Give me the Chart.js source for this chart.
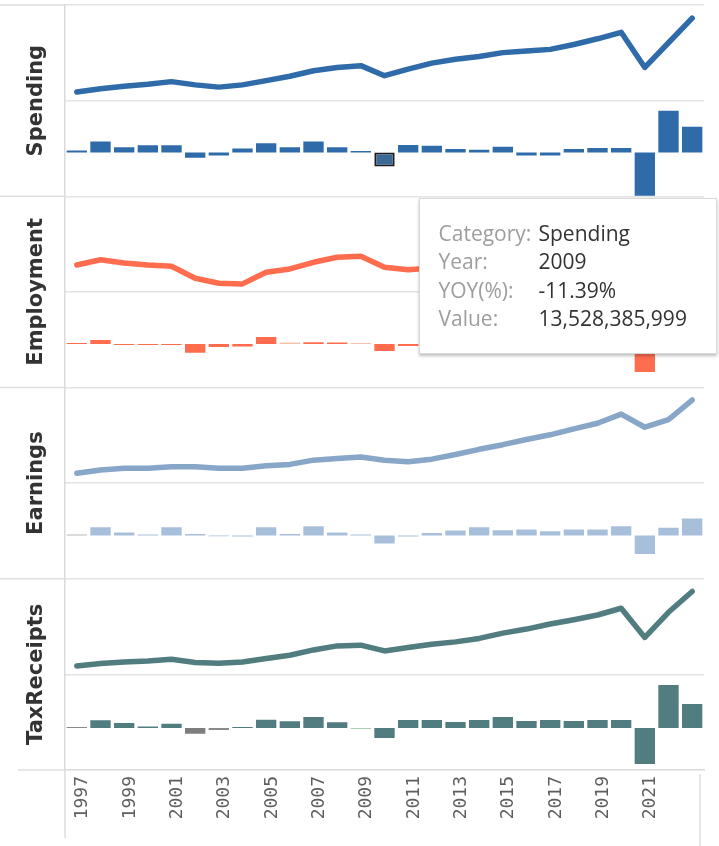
<!DOCTYPE html>
<html>
<head>
<meta charset="utf-8">
<script src="https://cdn.jsdelivr.net/npm/chart.js@4.4.1/dist/chart.umd.min.js"></script>
<style>
    html, body { margin: 0; padding: 0; background: #fff; }
    #wrap { position: relative; width: 719px; height: 846px; }
    #tip {
        position: absolute; display: none; box-sizing: border-box; width: 298px;
        padding: 20px 19px; background: #fff; border: 1px solid #d9d9d9;
        box-shadow: 0 2px 3px rgba(0, 0, 0, 0.25);
        font-family: "Open Sans", sans-serif; font-size: 21px;
    }
    #tip table { border-collapse: collapse; }
    #tip td { padding: 0; height: 28.5px; white-space: nowrap; }
    #tip td.k { color: #9d9d9d; width: 100px; }
    #tip td.v { color: #333; }
</style>
</head>
<body>
<div id="wrap">
    <canvas id="rowsChart"></canvas>
    <div id="tip"></div>
</div>
<script>
var years = [1996, 1997, 1998, 1999, 2000, 2001, 2002, 2003, 2004, 2005, 2006, 2007, 2008, 2009,
    2010, 2011, 2012, 2013, 2014, 2015, 2016, 2017, 2018, 2019, 2020, 2021, 2022];
var categories = ['Spending', 'Employment', 'Earnings', 'TaxReceipts'];

// values: billions (spending, earnings, tax), thousands (employment); yoy in %
var spendingValue = [10.47, 11.08, 11.57, 11.94, 12.42, 11.81, 11.39, 11.81, 12.61, 13.42, 14.45, 15.08, 15.41, 13.528385999,
    14.77, 15.88, 16.61, 17.11, 17.85, 18.15, 18.46, 19.38, 20.44, 21.65, 15.08, 19.70, 24.31];
var spendingYoy = [1.5, 8.8, 4.2, 5.8, 5.8, -4.2, -2.5, 3.3, 7.5, 4.2, 8.8, 4.2, 1.2, -11.39,
    6.1, 5.5, 2.8, 2.2, 4.7, -2.5, -2.5, 2.8, 3.6, 3.6, -35, 33.8, 20.8];

var employmentValue = [640, 693, 660, 640, 627, 507, 457, 450, 567, 600, 667, 717, 727, 617,
    593, 610, 628, 655, 680, 702, 718, 735, 752, 768, 560, 640, 705];
var employmentYoy = [0.8, 3.2, -0.8, -0.8, -0.8, -7.0, -2.4, -2.0, 5.6, 1.2, 1.4, 1.2, 0.8, -5.6,
    -1.6, 1.4, 1.9, 1.2, 2.2, 2.5, 1.6, 1.8, 2.1, 1.3, -22.4, 5.8, 7.6];

var earningsValue = [9.0, 9.66, 10.0, 10.0, 10.34, 10.34, 10.0, 10.0, 10.54, 10.8, 11.66, 12.0, 12.3, 11.66,
    11.34, 11.86, 12.8, 13.86, 14.8, 15.86, 16.8, 18.0, 19.14, 21.0, 18.34, 19.86, 23.86];
var earningsYoy = [0.8, 6.6, 2.4, 0.8, 6.6, 1.2, -0.6, -0.8, 6.6, 1.2, 7.4, 2.4, 0.8, -6.4,
    -0.8, 2.0, 4.0, 6.6, 4.2, 4.8, 3.4, 4.8, 4.8, 7.4, -14.8, 6.2, 13.6];

var taxValue = [4.33, 4.57, 4.73, 4.83, 5.0, 4.67, 4.6, 4.73, 5.07, 5.4, 5.93, 6.33, 6.4, 5.83,
    6.17, 6.5, 6.73, 7.07, 7.6, 8.0, 8.5, 8.93, 9.4, 10.07, 7.17, 9.67, 11.73];
var taxYoy = [0.8, 6.2, 4.0, 1.2, 3.4, -4.6, -1.6, 0.8, 6.6, 5.4, 8.8, 4.6, -0.8, -8.0,
    6.4, 6.4, 4.8, 6.4, 8.8, 5.6, 6.4, 5.6, 6.4, 6.4, -28.8, 34.4, 19.2];

var selectedYear = 2009;

var rows = [
    { value: spendingValue, yoy: spendingYoy, unit: 1e9, line: '#2e6ba8', bar: '#2e6ba8',
      lineRange: [8.86, 26.77], barRange: [-35.5, 42], muted: {} },
    { value: employmentValue, yoy: employmentYoy, unit: 1e3, line: '#ff6d4e', bar: '#ff6d4e',
      lineRange: [370, 1330], barRange: [-34.8, 41.7], muted: { 2005: '#f8c4a9', 2008: '#f8c4a9' } },
    { value: earningsValue, yoy: earningsYoy, unit: 1e9, line: '#88a6c8', bar: '#a8bfdb',
      lineRange: [7.0, 26.4], barRange: [-34.6, 41.9], muted: { 1996: '#b9b9b9' } },
    { value: taxValue, yoy: taxYoy, unit: 1e9, line: '#517d81', bar: '#517d81',
      lineRange: [3.5, 13.0], barRange: [-33.6, 42.9], muted: { 1996: '#8a8a8a', 2001: '#7d7d7d', 2002: '#8a8a8a', 2008: '#a9cbb2' } }
];

function panelAxis(range) {
    return {
        type: 'linear',
        position: 'left',
        stack: 'rows',
        stackWeight: 1,
        min: range[0],
        max: range[1],
        grid: { color: '#e3e3e3', lineWidth: 1.5, drawTicks: false },
        border: { color: '#dadada', width: 1.5 },
        ticks: { display: false },
        afterBuildTicks: function (axis) { axis.ticks = [{ value: axis.max }]; }
    };
}

var datasets = [];
var scales = {
    x: {
        type: 'category',
        offset: true,
        grid: { display: false },
        border: { display: true, color: '#dadada', width: 1.5 },
        ticks: {
            autoSkip: false,
            minRotation: 90,
            maxRotation: 90,
            padding: -2,
            labelOffset: -18,
            color: '#5e5e5e',
            font: { family: '"DejaVu Sans Mono", monospace', size: 18 },
            callback: function (value, index) {
                return years[index] % 2 === 1 ? String(years[index]) : '';
            }
        },
        afterFit: function (scale) { scale.height = 76; }
    }
};

// axes listed bottom row first: left-side stacked boxes are placed in reverse order
for (var k = rows.length - 1; k >= 0; k--) {
    scales['bar' + k] = panelAxis(rows[k].barRange);
    scales['line' + k] = panelAxis(rows[k].lineRange);
}

rows.forEach(function (r, k) {
    datasets.push({
        type: 'line',
        label: categories[k],
        row: k,
        data: r.value,
        yAxisID: 'line' + k,
        borderColor: r.line,
        borderWidth: 5.5,
        borderCapStyle: 'round',
        borderJoinStyle: 'round',
        pointRadius: 0,
        tension: 0
    });
    datasets.push({
        type: 'bar',
        label: categories[k] + ' YOY',
        row: k,
        data: r.yoy,
        yAxisID: 'bar' + k,
        grouped: false,
        categoryPercentage: 1,
        barPercentage: 0.86,
        backgroundColor: years.map(function (y) {
            if (k === 0 && y === selectedYear) return '#3a6996';
            return r.muted[y] || r.bar;
        }),
        borderColor: years.map(function (y) { return k === 0 && y === selectedYear ? '#1c1c1c' : r.bar; }),
        borderWidth: years.map(function (y) { return k === 0 && y === selectedYear ? 2 : 0; }),
        borderSkipped: false
    });
});

// row captions plus the table rules that run into the caption column and under the axis
var categoryLabels = {
    id: 'categoryLabels',
    afterDraw: function (chart) {
        var ctx = chart.ctx;
        var area = chart.chartArea;
        ctx.save();
        ctx.strokeStyle = '#dedede';
        ctx.lineWidth = 1.5;
        ctx.beginPath();
        categories.forEach(function (name, k) {
            var top = chart.scales['line' + k].top;
            ctx.moveTo(0, top);
            ctx.lineTo(area.left, top);
        });
        ctx.moveTo(18, area.bottom);
        ctx.lineTo(area.left, area.bottom);
        ctx.moveTo(area.left, area.bottom);
        ctx.lineTo(area.left, chart.height - 8);
        ctx.moveTo(area.right - 4, area.bottom + 4);
        ctx.lineTo(area.right - 4, chart.height);
        ctx.stroke();
        ctx.restore();

        categories.forEach(function (name, k) {
            var top = chart.scales['line' + k].top;
            var bottom = chart.scales['bar' + k].bottom;
            ctx.save();
            ctx.translate(area.left - 28, (top + bottom) / 2);
            ctx.rotate(-Math.PI / 2);
            ctx.font = 'bold 21px "DejaVu Sans", sans-serif';
            ctx.fillStyle = '#333';
            ctx.textAlign = 'center';
            ctx.textBaseline = 'middle';
            ctx.fillText(name, 0, 0);
            ctx.restore();
        });
    }
};

function showTip(context) {
    var tip = document.getElementById('tip');
    var t = context.tooltip;
    if (t.opacity === 0 || !t.dataPoints || !t.dataPoints.length) {
        tip.style.display = 'none';
        return;
    }
    var p = t.dataPoints[0];
    var r = rows[p.dataset.row];
    var i = p.dataIndex;
    var cells = [
        ['Category:', categories[p.dataset.row]],
        ['Year:', String(years[i])],
        ['YOY(%):', r.yoy[i].toFixed(2) + '%'],
        ['Value:', Math.round(r.value[i] * r.unit).toLocaleString('en-US')]
    ];
    tip.innerHTML = '<table>' + cells.map(function (c) {
        return '<tr><td class="k">' + c[0] + '</td><td class="v">' + c[1] + '</td></tr>';
    }).join('') + '</table>';
    tip.style.display = 'block';
    tip.style.left = (t.caretX + 34) + 'px';
    tip.style.top = (t.caretY + 31) + 'px';
}

var chart = new Chart(document.getElementById('rowsChart').getContext('2d'), {
    data: { labels: years, datasets: datasets },
    options: {
        responsive: true,
        maintainAspectRatio: false,
        animation: false,
        events: [],
        layout: { padding: { left: 65, right: 15, top: 5, bottom: 0 } },
        scales: scales,
        plugins: {
            legend: { display: false },
            tooltip: { enabled: false, position: 'average', external: showTip }
        }
    },
    plugins: [categoryLabels]
});

chart.tooltip.setActiveElements([{ datasetIndex: 1, index: years.indexOf(selectedYear) }], { x: 0, y: 0 });
</script>
</body>
</html>
